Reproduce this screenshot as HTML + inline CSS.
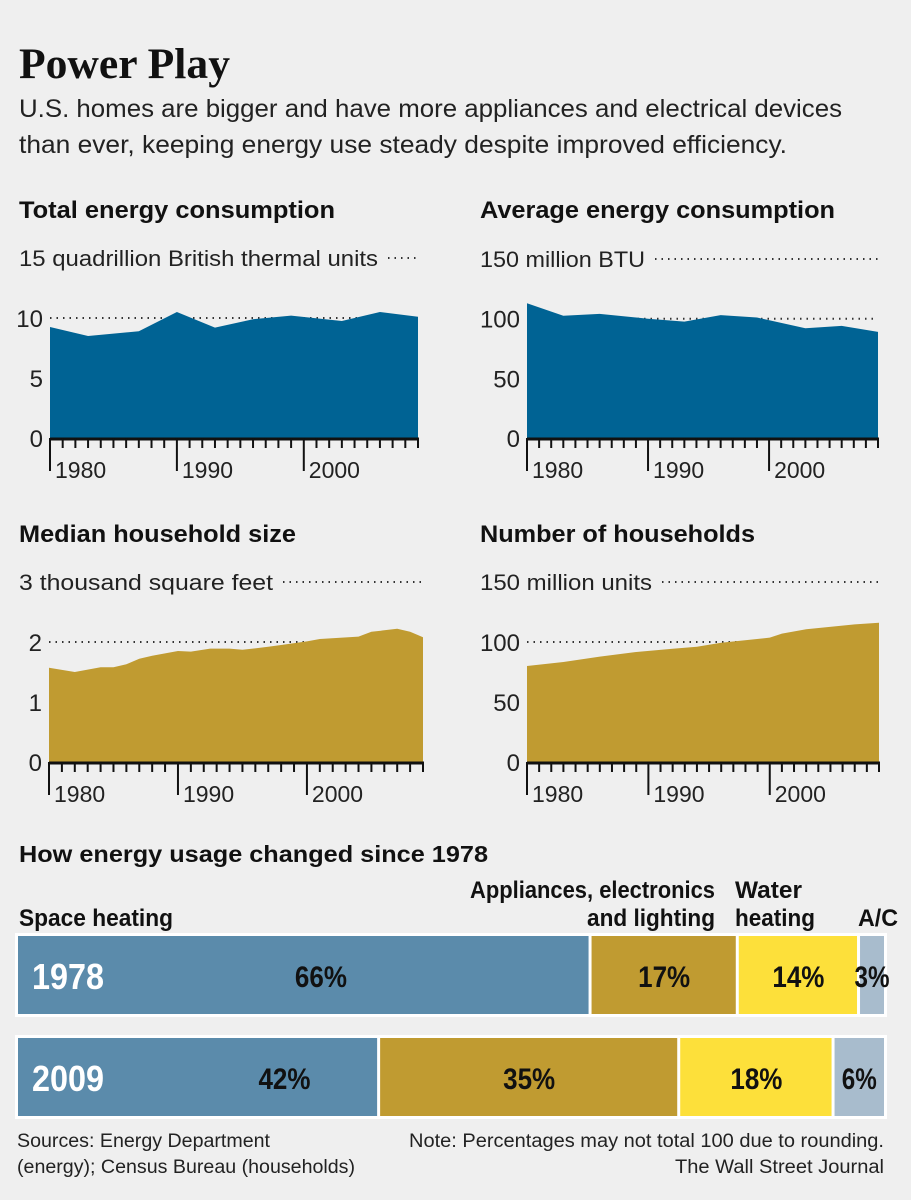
<!DOCTYPE html>
<html><head><meta charset="utf-8"><style>
html,body{margin:0;padding:0;background:#efefef;}
svg{display:block;font-family:"Liberation Sans",sans-serif;}
</style></head><body>
<svg id="s" width="911" height="1200" viewBox="0 0 911 1200" xmlns="http://www.w3.org/2000/svg">
<rect width="911" height="1200" fill="#efefef"/>
<text x="19" y="78" font-family="Liberation Serif,serif" font-weight="bold" font-size="43" textLength="211" lengthAdjust="spacingAndGlyphs" fill="#111">Power Play</text>
<text x="19" y="117" font-size="25" textLength="823" lengthAdjust="spacingAndGlyphs" fill="#222">U.S. homes are bigger and have more appliances and electrical devices</text>
<text x="19" y="153" font-size="25" textLength="768" lengthAdjust="spacingAndGlyphs" fill="#222">than ever, keeping energy use steady despite improved efficiency.</text>
<g id="charts"></g>
<text x="19" y="862" font-size="23" textLength="469" lengthAdjust="spacingAndGlyphs" font-weight="bold" fill="#111">How energy usage changed since 1978</text>
<g id="bars"></g>
<text x="17" y="1147" font-size="19" textLength="253" lengthAdjust="spacingAndGlyphs" fill="#222">Sources: Energy Department</text>
<text x="17" y="1173" font-size="19" textLength="338" lengthAdjust="spacingAndGlyphs" fill="#222">(energy); Census Bureau (households)</text>
<text x="409" y="1147" font-size="19" textLength="475" lengthAdjust="spacingAndGlyphs" fill="#222">Note: Percentages may not total 100 due to rounding.</text>
<text x="675" y="1173" font-size="19" textLength="209" lengthAdjust="spacingAndGlyphs" fill="#222">The Wall Street Journal</text>
</svg>
<script>
// ---- chart data ----
const totalYears = [1978,1981,1985,1988,1991,1994,1997,2001,2004,2007];
const totalValues = [9.25,8.5,8.9,10.5,9.2,9.9,10.2,9.75,10.5,10.1];
const avgYears = [1978,1981,1984,1988,1991,1994,1997,2001,2004,2007];
const avgValues = [113,102.5,104,100,97.5,103,101,92,94,89];
const sizeYears = [1978,1980,1982,1983,1984,1985,1986,1987,1988,1989,1990.5,1992,1993,1995,1996,1998,1999,2002,2003,2005,2006,2007];
const sizeValues = [1.57,1.5,1.58,1.58,1.63,1.72,1.77,1.81,1.85,1.84,1.89,1.89,1.87,1.92,1.95,2.01,2.05,2.09,2.17,2.22,2.17,2.08];
const hhYears = [1978,1981,1984,1987,1990,1992,1994,1998,1999,2001,2005,2007];
const hhValues = [80,83.3,87.8,91.7,94.4,96,99.4,103.6,107,110.6,114.7,116];
const majorTickYears = [1978,1988,1998];
const xTickLabels = ["1980","1990","2000"];
const totalTicks = [0,5,10];
const avgTicks = [0,50,100];
const sizeTicks = [0,1,2];
const hhTicks = [0,50,100];
// ---- bar data ----
const barRows = ["1978","2009"];
const barCategories = ["Space heating","Appliances, electronics and lighting","Water heating","A/C"];
const bar1978 = [66,17,14,3];
const bar2009 = [42,35,18,6];

const NS="http://www.w3.org/2000/svg";
function mk(tag,attrs,parent,txt){const e=document.createElementNS(NS,tag);for(const k in attrs)e.setAttribute(k,attrs[k]);if(txt!==undefined)e.textContent=txt;parent.appendChild(e);return e;}

const charts=document.getElementById('charts');
function drawChart(cfg){
  const g=mk('g',{},charts);
  
  
  const xs=y=>cfg.x0+(y-1978)*(cfg.x1-cfg.x0)/(2007-1978);
  const ys=v=>cfg.y0-v*cfg.ppu;
  const t=mk('text',{x:cfg.tx,y:cfg.titleY,'font-size':24,'font-weight':'bold',fill:'#111',textLength:cfg.titleW,lengthAdjust:'spacingAndGlyphs'},g,cfg.title);
  
  
  const u=mk('text',{x:cfg.tx,y:cfg.y0-cfg.top*cfg.ppu+8,'font-size':22,fill:'#222',textLength:cfg.unitEnd-cfg.tx-10,lengthAdjust:'spacingAndGlyphs'},g,cfg.unit);
  
  
  const tl=mk('line',{x1:cfg.unitEnd,x2:cfg.x1,y1:ys(cfg.top),y2:ys(cfg.top),stroke:'#333','stroke-width':2,'stroke-dasharray':'1.5 5'},g);
  
  
  cfg.ticks.forEach(v=>{
    if(v>0){const gl=mk('line',{x1:cfg.x0,x2:cfg.x1,y1:ys(v),y2:ys(v),stroke:'#333','stroke-width':2,'stroke-dasharray':'1.5 5'},g);
      
      }
    const lb=mk('text',{x:cfg.x0-7,y:ys(v)+9,'text-anchor':'end','font-size':24,fill:'#222'},g,String(v));
    
    
  });
  let d='M'+xs(cfg.years[0])+','+ys(0);
  cfg.years.forEach((y,i)=>{d+=' L'+xs(y)+','+ys(cfg.values[i]);});
  d+=' L'+xs(cfg.years[cfg.years.length-1])+','+ys(0)+' Z';
  const a=mk('path',{d:d,fill:cfg.color},g);
  
  
  const ax=mk('line',{x1:cfg.x0,x2:cfg.x1+1,y1:ys(0)+1,y2:ys(0)+1,stroke:'#111','stroke-width':3},g);
  
  
  for(let y=1978;y<=2007;y++){
    const major=majorTickYears.indexOf(y)>=0;
    const tk=mk('line',{x1:xs(y),x2:xs(y),y1:ys(0),y2:ys(0)+(major?33:10),stroke:'#111','stroke-width':2},g);
    
    
  }
  majorTickYears.forEach((y,i)=>{
    const lb=mk('text',{x:xs(y)+5,y:ys(0)+40,'font-size':23,fill:'#222'},g,xTickLabels[i]);
    
    
  });
}
drawChart({name:'total-energy-chart',title:'Total energy consumption',titleW:316,unit:'15 quadrillion British thermal units',unitEnd:388,tx:19,titleY:218,x0:50,x1:418,y0:438,ppu:12,top:15,ticks:totalTicks,years:totalYears,values:totalValues,color:'#006394'});
drawChart({name:'average-energy-chart',title:'Average energy consumption',titleW:355,unit:'150 million BTU',unitEnd:655,tx:480,titleY:218,x0:527,x1:878,y0:438,ppu:1.193,top:150,ticks:avgTicks,years:avgYears,values:avgValues,color:'#006394'});
drawChart({name:'household-size-chart',title:'Median household size',titleW:277,unit:'3 thousand square feet',unitEnd:283,tx:19,titleY:542,x0:49,x1:423,y0:762,ppu:60,top:3,ticks:sizeTicks,years:sizeYears,values:sizeValues,color:'#c09b31'});
drawChart({name:'households-chart',title:'Number of households',titleW:275,unit:'150 million units',unitEnd:662,tx:480,titleY:542,x0:527,x1:879,y0:762,ppu:1.2,top:150,ticks:hhTicks,years:hhYears,values:hhValues,color:'#c09b31'});

// ---- stacked bars ----
const bars=document.getElementById('bars');
const barColors=['#5b8bab','#c09b31','#fde03a','#a8bccd'];
const firstLabelFrac=[0.53,0.74];
const rowY=[936,1038], rowH=78, bx0=18, bx1=884;
[bar1978,bar2009].forEach((vals,r)=>{
  const g=mk('g',{},bars);
  
  
  const bg=mk('rect',{x:bx0-3,y:rowY[r]-3,width:bx1-bx0+6,height:rowH+6,fill:'#fff'},g);
  
  
  const sum=vals.reduce((a,b)=>a+b,0);
  let x=bx0;
  vals.forEach((v,i)=>{
    const w=v/sum*(bx1-bx0);
    const rc=mk('rect',{x:x+(i?2:0),y:rowY[r],width:w-(i?2:0)-(i<vals.length-1?1:0),height:rowH,fill:barColors[i]},g);
    
    
    const cx=i===0?x+w*firstLabelFrac[r]:x+w/2+1;
    const tw=String(v).length>1?52:35;
    const lb=mk('text',{x:cx-tw/2,y:rowY[r]+51,'font-size':30,'font-weight':'bold',fill:'#111',textLength:tw,lengthAdjust:'spacingAndGlyphs'},g,v+'%');
    
    
    x+=w;
  });
  const yl=mk('text',{x:32,y:rowY[r]+53,'font-size':36,'font-weight':'bold',fill:'#fff',textLength:72,lengthAdjust:'spacingAndGlyphs'},g,barRows[r]);
  
  
});
const catLabels=[
  {t:'Space heating',x:19,y:926,w:154},
  {t:'Appliances, electronics',x:470,y:898,w:245},
  {t:'and lighting',x:587,y:926,w:128},
  {t:'Water',x:735,y:898,w:67},
  {t:'heating',x:735,y:926,w:80},
  {t:'A/C',x:858,y:926,w:40}];
catLabels.forEach(c=>{
  const e=mk('text',{x:c.x,y:c.y,'font-size':24,'font-weight':'bold',fill:'#111',textLength:c.w,lengthAdjust:'spacingAndGlyphs'},bars,c.t);
  
  
});
</script>
</body></html>
